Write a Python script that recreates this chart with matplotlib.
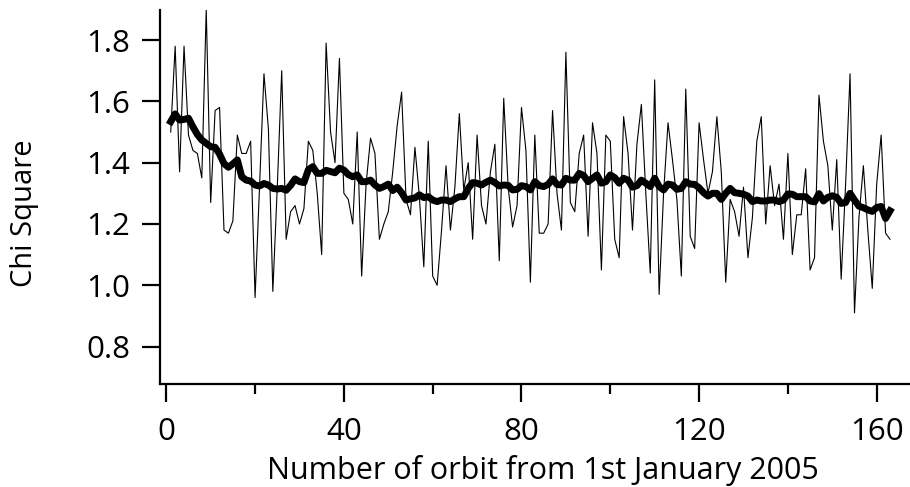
import numpy as np
import matplotlib.pyplot as plt
from matplotlib.ticker import MultipleLocator

# chi square per orbit (thin line)
chi2 = [
    1.50, 1.78, 1.37, 1.78, 1.49, 1.44, 1.43, 1.35, 1.90, 1.27,
    1.57, 1.58, 1.18, 1.17, 1.21, 1.49, 1.43, 1.43, 1.47, 0.96,
    1.32, 1.69, 1.51, 0.98, 1.32, 1.70, 1.15, 1.24, 1.26, 1.20,
    1.25, 1.47, 1.44, 1.30, 1.10, 1.79, 1.50, 1.40, 1.74, 1.30,
    1.28, 1.20, 1.50, 1.03, 1.33, 1.48, 1.43, 1.15, 1.20, 1.24,
    1.37, 1.52, 1.63, 1.28, 1.23, 1.45, 1.29, 1.06, 1.47, 1.03,
    1.00, 1.18, 1.39, 1.18, 1.32, 1.56, 1.31, 1.40, 1.15, 1.49,
    1.26, 1.20, 1.37, 1.46, 1.08, 1.61, 1.32, 1.19, 1.26, 1.58,
    1.44, 1.01, 1.49, 1.17, 1.17, 1.20, 1.57, 1.30, 1.18, 1.76,
    1.27, 1.24, 1.43, 1.49, 1.16, 1.53, 1.43, 1.05, 1.49, 1.47,
    1.15, 1.09, 1.55, 1.43, 1.18, 1.46, 1.59, 1.30, 1.04, 1.67,
    0.97, 1.30, 1.53, 1.41, 1.28, 1.03, 1.64, 1.16, 1.12, 1.53,
    1.41, 1.30, 1.37, 1.55, 1.37, 1.01, 1.28, 1.24, 1.16, 1.32,
    1.09, 1.22, 1.47, 1.55, 1.20, 1.39, 1.26, 1.33, 1.15, 1.43,
    1.10, 1.23, 1.23, 1.38, 1.05, 1.09, 1.62, 1.47, 1.39, 1.18,
    1.41, 1.02, 1.33, 1.69, 0.91, 1.22, 1.39, 1.18, 0.99, 1.33,
    1.49, 1.17, 1.15,
]

# smoothed curve (thick line)
chi2_smooth = [
    1.534, 1.559, 1.539, 1.541, 1.545, 1.517, 1.492, 1.474, 1.463, 1.452,
    1.450, 1.428, 1.397, 1.385, 1.396, 1.409, 1.354, 1.343, 1.340, 1.327,
    1.324, 1.332, 1.327, 1.316, 1.314, 1.316, 1.310, 1.326, 1.347, 1.338,
    1.335, 1.377, 1.387, 1.365, 1.365, 1.375, 1.371, 1.367, 1.382, 1.376,
    1.361, 1.354, 1.360, 1.338, 1.338, 1.343, 1.327, 1.316, 1.322, 1.330,
    1.309, 1.320, 1.302, 1.278, 1.282, 1.285, 1.295, 1.286, 1.289, 1.278,
    1.273, 1.278, 1.278, 1.273, 1.282, 1.289, 1.289, 1.316, 1.335, 1.333,
    1.327, 1.336, 1.343, 1.335, 1.324, 1.327, 1.326, 1.311, 1.313, 1.325,
    1.322, 1.311, 1.338, 1.325, 1.322, 1.329, 1.347, 1.329, 1.327, 1.349,
    1.343, 1.343, 1.365, 1.358, 1.338, 1.349, 1.360, 1.333, 1.338, 1.360,
    1.351, 1.333, 1.349, 1.343, 1.320, 1.325, 1.343, 1.333, 1.322, 1.349,
    1.322, 1.311, 1.330, 1.327, 1.313, 1.316, 1.338, 1.330, 1.329, 1.318,
    1.302, 1.291, 1.300, 1.300, 1.280, 1.300, 1.316, 1.302, 1.300, 1.297,
    1.291, 1.273, 1.278, 1.275, 1.275, 1.278, 1.278, 1.273, 1.278, 1.298,
    1.297, 1.289, 1.289, 1.289, 1.275, 1.272, 1.299, 1.275, 1.287, 1.292,
    1.287, 1.267, 1.270, 1.300, 1.278, 1.258, 1.253, 1.246, 1.241, 1.254,
    1.257, 1.218, 1.243,
]

orbit = np.arange(1, len(chi2) + 1)

plt.rcParams["font.family"] = ["Open Sans", "DejaVu Sans"]

fig = plt.figure(figsize=(9.1, 4.87), dpi=100)
ax = fig.add_axes([0.1754, 0.2115, 1.0 - 0.1754, 0.9795 - 0.2115])

ax.plot(orbit, chi2, color="black", linewidth=0.8)
ax.plot(orbit, chi2_smooth, color="black", linewidth=5, solid_joinstyle="round")

ax.set_xlim(-1.5, 167.5)
ax.set_ylim(0.678, 1.898)

for side in ["top", "right"]:
    ax.spines[side].set_visible(False)
for side in ["left", "bottom"]:
    ax.spines[side].set_linewidth(1.6)

ax.xaxis.set_major_locator(MultipleLocator(40))
ax.xaxis.set_minor_locator(MultipleLocator(20))
ax.yaxis.set_major_locator(MultipleLocator(0.2))
ax.yaxis.set_major_formatter(plt.FuncFormatter(lambda v, p: f"{v:.1f}"))

ax.tick_params(axis="both", which="major", direction="out", length=13, width=1.6,
               labelsize=22.5)
ax.tick_params(axis="y", which="major", pad=8)
ax.tick_params(axis="x", which="major", pad=11)
ax.tick_params(axis="x", which="minor", direction="out", length=7, width=1.6)

ax.set_xlabel("Number of orbit from 1st January 2005", fontsize=22)
ax.set_ylabel("Chi Square", fontsize=21)
ax.xaxis.set_label_coords(543 / 910, 1 - 470 / 487, transform=fig.transFigure)
ax.yaxis.set_label_coords(25 / 910, 1 - 213 / 487, transform=fig.transFigure)
ax.xaxis.label.set_va("center")
ax.yaxis.label.set_va("center")

fig.savefig("out.png", dpi=100)
